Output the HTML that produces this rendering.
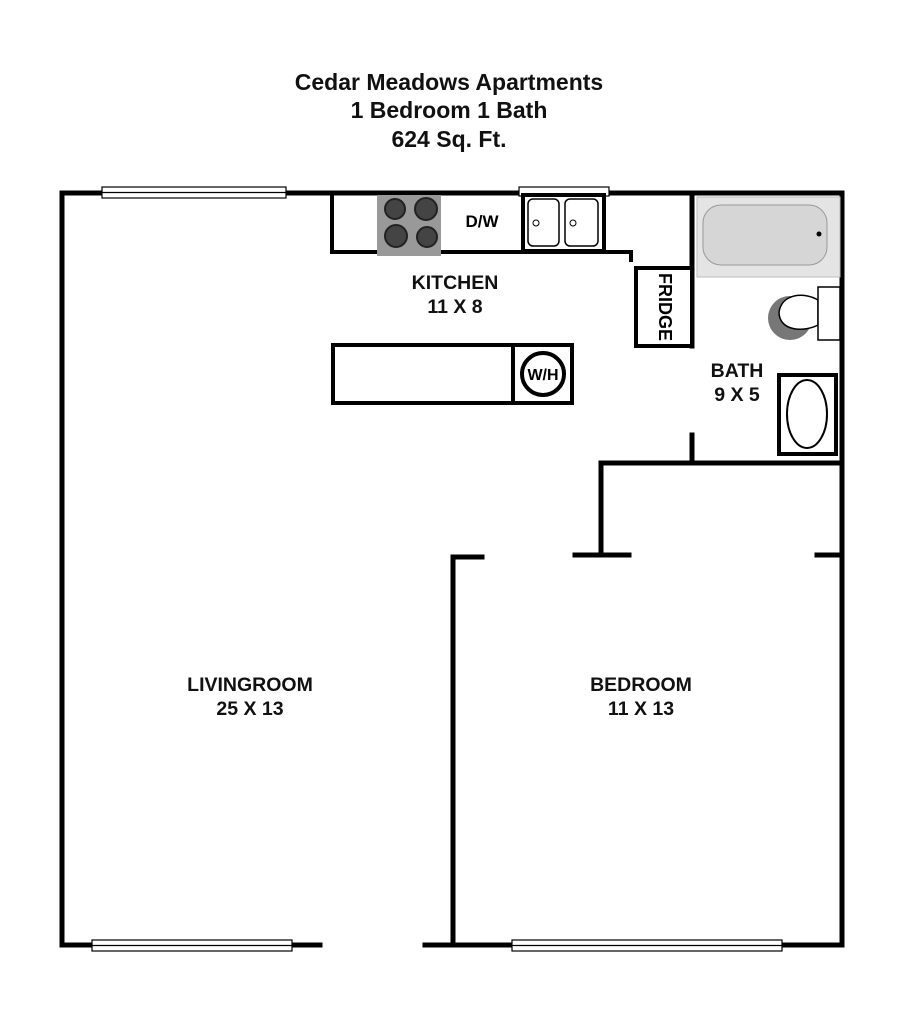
<!DOCTYPE html>
<html><head><style>html,body{margin:0;padding:0;background:#fff}svg{display:block}</style></head><body>
<svg width="904" height="1024" viewBox="0 0 904 1024" xmlns="http://www.w3.org/2000/svg" font-family="Liberation Sans, sans-serif" font-weight="bold">
<g text-anchor="middle" font-size="23" fill="#111">
<text x="449" y="90">Cedar Meadows Apartments</text>
<text x="449" y="118">1 Bedroom 1 Bath</text>
<text x="449" y="147">624 Sq. Ft.</text>
</g>
<g stroke="#000" stroke-width="5" fill="none" stroke-linecap="square">
<polyline points="62,193 842,193 842,945"/>
<line x1="62" y1="193" x2="62" y2="945"/>
<line x1="62" y1="945" x2="320" y2="945"/>
<line x1="425" y1="945" x2="842" y2="945"/>
<line x1="692" y1="193" x2="692" y2="346"/>
<line x1="692" y1="435" x2="692" y2="463"/>
<polyline points="601,555 601,463 842,463"/>
<line x1="575" y1="555" x2="629" y2="555"/>
<line x1="817" y1="555" x2="842" y2="555"/>
<polyline points="482,557 453,557 453,945"/>
</g>
<g fill="#fff" stroke="#000" stroke-width="1.2">
<rect x="102" y="187" width="184" height="11"/>
<rect x="92" y="940" width="200" height="11"/>
<rect x="512" y="940" width="270" height="11"/>
<rect x="519" y="187" width="90" height="9"/>
</g>
<g stroke="#000" stroke-width="1.2">
<line x1="102" y1="192.5" x2="286" y2="192.5"/>
<line x1="92" y1="945.5" x2="292" y2="945.5"/>
<line x1="512" y1="945.5" x2="782" y2="945.5"/>
</g>
<polyline points="332,195 332,252 631,252 631,262" stroke="#000" stroke-width="4" fill="none"/>
<rect x="377" y="195" width="64" height="61" fill="#999"/>
<g fill="#444" stroke="#222" stroke-width="2">
<circle cx="395" cy="209" r="10"/><circle cx="426" cy="209" r="11"/>
<circle cx="396" cy="236" r="11"/><circle cx="427" cy="237" r="10"/>
</g>
<text x="482" y="227" font-size="17" text-anchor="middle">D/W</text>
<rect x="523" y="195" width="81" height="56" fill="#fff" stroke="#000" stroke-width="4"/>
<rect x="528" y="199" width="31" height="47" rx="5" fill="#fff" stroke="#000" stroke-width="1.5"/>
<rect x="565" y="199" width="33" height="47" rx="5" fill="#fff" stroke="#000" stroke-width="1.5"/>
<circle cx="536" cy="223" r="3" fill="none" stroke="#000"/><circle cx="573" cy="223" r="3" fill="none" stroke="#000"/>
<rect x="636" y="268" width="56" height="78" fill="#fff" stroke="#000" stroke-width="4"/>
<text transform="translate(659,307) rotate(90)" font-size="18" text-anchor="middle">FRIDGE</text>
<rect x="697" y="197" width="143" height="80" fill="#e4e4e4" stroke="#bbb"/>
<rect x="703" y="205" width="124" height="60" rx="18" fill="#d6d6d6" stroke="#999"/>
<circle cx="819" cy="234" r="2.5" fill="#000"/>
<ellipse cx="790" cy="318" rx="22" ry="22" fill="#777"/>
<path d="M818,300 C805,292 782,293 779,312 C779,332 805,332 818,325 Z" fill="#fff" stroke="#000" stroke-width="1.5"/>
<rect x="818" y="287" width="22" height="53" fill="#fff" stroke="#000" stroke-width="1.5"/>
<rect x="779" y="375" width="57" height="79" fill="#fff" stroke="#000" stroke-width="4"/>
<ellipse cx="807" cy="414" rx="20" ry="34" fill="#fff" stroke="#000" stroke-width="2"/>
<rect x="333" y="345" width="239" height="58" fill="#fff" stroke="#000" stroke-width="4"/>
<line x1="513" y1="345" x2="513" y2="403" stroke="#000" stroke-width="4"/>
<circle cx="543" cy="374" r="21" fill="#fff" stroke="#000" stroke-width="4"/>
<text x="543" y="380" font-size="16" text-anchor="middle">W/H</text>
<g text-anchor="middle" font-size="19.5" fill="#111">
<text x="455" y="289">KITCHEN</text><text x="455" y="313">11 X 8</text>
<text x="737" y="377">BATH</text><text x="737" y="401">9 X 5</text>
<text x="250" y="691">LIVINGROOM</text><text x="250" y="715">25 X 13</text>
<text x="641" y="691">BEDROOM</text><text x="641" y="715">11 X 13</text>
</g>
</svg>
</body></html>
